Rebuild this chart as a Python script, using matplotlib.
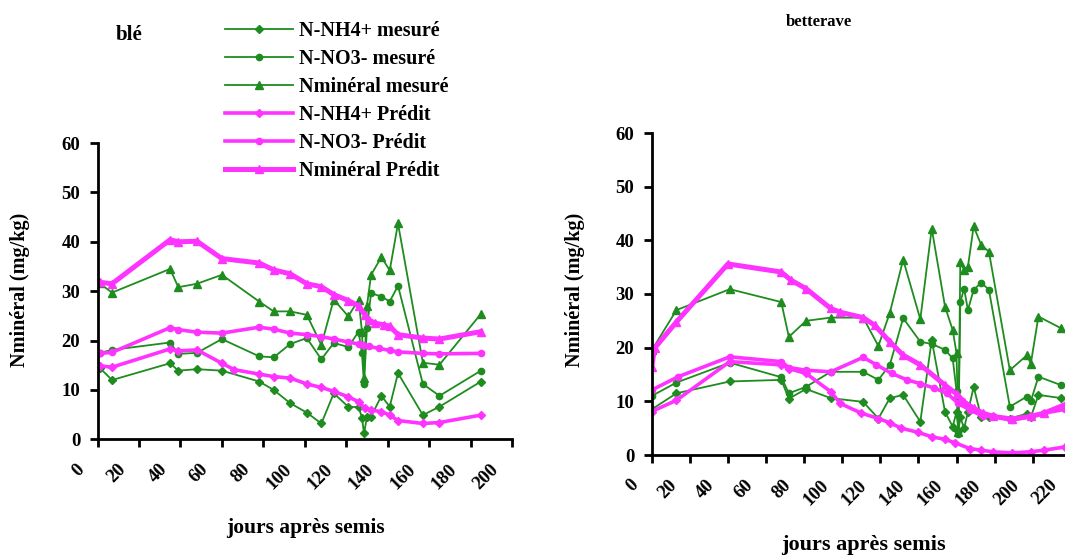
import matplotlib
matplotlib.use("Agg")
import matplotlib.pyplot as plt
from matplotlib.transforms import ScaledTranslation

plt.rcParams['font.family'] = ['Liberation Serif', 'DejaVu Serif']
plt.rcParams['font.weight'] = 'bold'

# ---- blé : mesures ----
ble_jours_mes = [1, 7, 35, 39, 48, 60, 78, 85, 93, 101, 108, 114, 121, 126, 127.6, 128.6, 130, 132, 137, 141, 145, 157, 165, 185]
ble_nmin_mes = [31.6, 29.7, 34.5, 30.8, 31.5, 33.3, 27.9, 25.9, 25.9, 25.2, 19.1, 28.3, 24.9, 28.3, 21.8, 12.5, 27.0, 33.3, 36.9, 34.2, 43.7, 15.5, 15.1, 25.4]
ble_no3_mes = [17.5, 18.1, 19.6, 17.3, 17.5, 20.3, 16.8, 16.6, 19.3, 20.5, 16.2, 19.5, 18.7, 21.8, 17.4, 11.2, 22.5, 29.6, 28.9, 27.9, 31.1, 11.2, 8.8, 13.9]
ble_nh4_mes = [14.5, 12.0, 15.4, 13.9, 14.2, 13.9, 11.7, 10.0, 7.3, 5.4, 3.2, 9.3, 6.6, 6.5, 4.4, 1.2, 4.5, 4.6, 8.8, 6.6, 13.4, 4.9, 6.6, 11.7]

# ---- blé : prédictions ----
ble_jours_nmin_pred = [1, 7, 35, 39, 48, 60, 78, 85, 93, 101, 108, 114, 121, 126, 129, 131, 134, 138, 141, 145, 157, 165, 185]
ble_nmin_pred = [31.8, 31.5, 40.4, 40.0, 40.1, 36.6, 35.7, 34.3, 33.5, 31.5, 30.9, 29.3, 28.1, 27.0, 25.2, 24.2, 23.5, 23.2, 22.9, 21.2, 20.5, 20.3, 21.8]
ble_jours_no3_pred = [1, 7, 35, 39, 48, 60, 78, 85, 93, 101, 108, 114, 121, 126, 128, 131, 136, 141, 145, 157, 165, 185]
ble_no3_pred = [17.4, 17.6, 22.6, 22.2, 21.7, 21.5, 22.7, 22.3, 21.5, 21.2, 20.8, 20.3, 19.7, 19.3, 19.0, 18.8, 18.4, 18.0, 17.7, 17.4, 17.3, 17.4]
ble_jours_nh4_pred = [1, 7, 35, 39, 48, 60, 66, 78, 85, 93, 101, 108, 114, 121, 126, 129, 132, 137, 141, 145, 157, 165, 185]
ble_nh4_pred = [14.9, 14.6, 18.3, 17.9, 18.1, 15.4, 14.1, 13.2, 12.7, 12.4, 11.2, 10.5, 9.7, 8.6, 7.6, 6.3, 5.9, 5.6, 4.9, 3.8, 3.2, 3.4, 4.9]

# ---- betterave : mesures ----
bet_jours_mes = [0, 13, 41, 68, 72, 81, 94, 111, 119, 125, 132, 141, 147, 154, 158, 160, 161, 162, 164, 166, 169, 173, 177, 188, 197, 199, 203, 215]
bet_nmin_mes = [19.5, 27.0, 30.9, 28.5, 22.0, 25.0, 25.6, 25.6, 20.3, 26.5, 36.4, 25.3, 42.2, 27.6, 23.3, 19.0, 4.3, 36.0, 34.5, 35.1, 42.6, 39.1, 37.9, 15.8, 18.6, 17.0, 25.8, 23.6]
bet_no3_mes = [11.0, 13.5, 17.2, 14.5, 11.5, 12.7, 15.5, 15.5, 14.0, 16.8, 25.5, 21.1, 20.7, 19.6, 18.0, 12.0, 4.0, 28.5, 31.0, 27.0, 30.8, 32.1, 30.8, 9.0, 10.9, 10.0, 14.6, 13.0]
bet_nh4_mes = [8.5, 11.5, 13.7, 14.0, 10.5, 12.3, 10.6, 9.9, 6.8, 10.6, 11.2, 6.2, 21.4, 8.0, 5.3, 8.0, 4.5, 7.0, 5.0, 8.0, 12.7, 7.0, 7.0, 6.8, 7.7, 7.0, 11.2, 10.6]

# ---- betterave : prédictions ----
bet_jours_nmin_pred = [0, 1.5, 13, 40, 68, 73, 81, 94, 99, 111, 117, 125, 132, 141, 154, 160, 164, 169, 174, 179, 189, 199, 206, 217]
bet_nmin_pred = [16.4, 19.9, 24.8, 35.6, 34.1, 32.6, 31.0, 27.3, 26.6, 25.6, 24.2, 21.1, 18.6, 16.8, 13.0, 11.4, 9.9, 8.7, 7.8, 7.2, 6.7, 7.2, 7.8, 9.4]
bet_jours_no3_pred = [0, 14, 41, 68, 72, 81, 94, 111, 118, 126, 134, 141, 148, 155, 161, 167, 174, 179, 189, 199, 206, 217]
bet_no3_pred = [12.1, 14.6, 18.3, 17.4, 16.3, 15.8, 15.5, 18.2, 16.8, 15.2, 14.0, 13.3, 12.5, 11.5, 9.6, 8.4, 7.2, 7.2, 6.5, 7.2, 7.8, 8.5]
bet_jours_nh4_pred = [0, 13, 41, 68, 72, 81, 94, 99, 110, 119, 125, 131, 140, 147, 154, 159, 167, 173, 179, 189, 199, 206, 217]
bet_nh4_pred = [8.1, 10.2, 17.4, 16.8, 16.1, 15.2, 11.8, 9.6, 7.8, 6.8, 6.0, 5.0, 4.2, 3.4, 2.9, 2.3, 1.2, 0.9, 0.6, 0.4, 0.6, 0.9, 1.5]

labels = ['N-NH4+ mesuré', 'N-NO3- mesuré', 'Nminéral mesuré',
          'N-NH4+ Prédit', 'N-NO3- Prédit', 'Nminéral Prédit']

VERT = '#1e8c1e'
ROSE = '#ff33ff'

fig = plt.figure(figsize=(10.65, 5.56), dpi=100)
W, H = 1065, 556
ax1 = fig.add_axes([97.5 / W, (H - 439.3) / H, 414.5 / W, 296.3 / H])
ax2 = fig.add_axes([651.7 / W, (H - 455) / H, 457.2 / W, 322 / H])


def draw(ax, jm, nh4m, no3m, nminm, jp_nh4, nh4p, jp_no3, no3p, jp_nmin, nminp):
    h = []
    h += ax.plot(jm, nh4m, color=VERT, lw=1.3, marker='D', ms=4)
    h += ax.plot(jm, no3m, color=VERT, lw=1.3, marker='o', ms=4.5)
    h += ax.plot(jm, nminm, color=VERT, lw=1.3, marker='^', ms=5.5)
    h += ax.plot(jp_nh4, nh4p, color=ROSE, lw=2.6, marker='D', ms=4.5)
    h += ax.plot(jp_no3, no3p, color=ROSE, lw=2.6, marker='o', ms=4.5)
    h += ax.plot(jp_nmin, nminp, color=ROSE, lw=3.6, marker='^', ms=6)
    return h


handles = draw(ax1, ble_jours_mes, ble_nh4_mes, ble_no3_mes, ble_nmin_mes,
               ble_jours_nh4_pred, ble_nh4_pred, ble_jours_no3_pred, ble_no3_pred,
               ble_jours_nmin_pred, ble_nmin_pred)
draw(ax2, bet_jours_mes, bet_nh4_mes, bet_no3_mes, bet_nmin_mes,
     bet_jours_nh4_pred, bet_nh4_pred, bet_jours_no3_pred, bet_no3_pred,
     bet_jours_nmin_pred, bet_nmin_pred)

for ax, xmax, tmax in [(ax1, 200, 200), (ax2, 240, 220)]:
    ax.set_xlim(0, xmax)
    ax.set_ylim(0, 60)
    ax.set_xticks(range(0, tmax + 1, 20))
    ax.set_yticks(range(0, 61, 10))
    for s in ['top', 'right']:
        ax.spines[s].set_visible(False)
    for s in ['left', 'bottom']:
        ax.spines[s].set_linewidth(2)
    ax.tick_params(direction='out', length=5.5, width=2, labelsize=13.5)
    ax.tick_params(axis='x', pad=10)
    ax.tick_params(axis='y', pad=7)
    offset = ScaledTranslation(-10 / 100, 0, fig.dpi_scale_trans)
    for lab in ax.get_xticklabels():
        lab.set_rotation(45)
        lab.set_ha('right')
        lab.set_va('top')
        lab.set_transform(lab.get_transform() + offset)

fig.text(129 / W, 1 - 35 / H, 'blé', ha='center', va='center', fontsize=15)
fig.text(819 / W, 1 - 22 / H, 'betterave', ha='center', va='center', fontsize=12)
fig.text(20 / W, 1 - 290 / H, 'Nminéral (mg/kg)', rotation=90, ha='center', va='center', fontsize=14.5)
fig.text(575 / W, 1 - 290 / H, 'Nminéral (mg/kg)', rotation=90, ha='center', va='center', fontsize=14.5)
fig.text(305 / W, 1 - 528 / H, 'jours après semis', ha='center', va='center', fontsize=15.5)
fig.text(863 / W, 1 - 545 / H, 'jours après semis', ha='center', va='center', fontsize=16)

fig.legend(handles, labels, loc='upper left', bbox_to_anchor=(225 / W, 1 - 21 / H),
           frameon=False, fontsize=14.5, handlelength=3.4, handletextpad=0.25,
           labelspacing=0.4, borderpad=0, borderaxespad=0)

fig.savefig('out.png', dpi=100)
